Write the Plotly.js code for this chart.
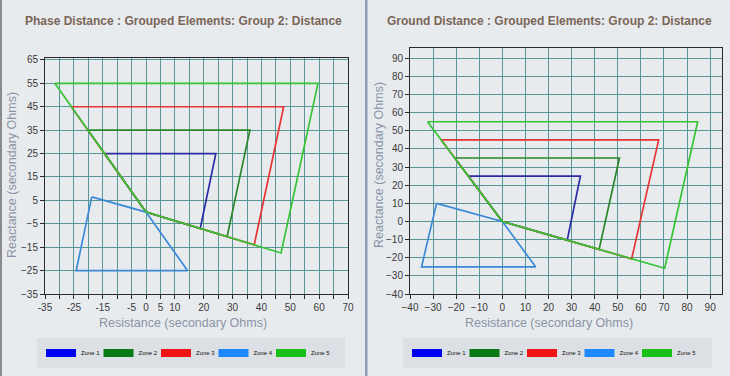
<!DOCTYPE html>
<html>
<head>
<meta charset="utf-8">
<script src="https://cdn.plot.ly/plotly-3.0.1.min.js"></script>
<style>html,body{margin:0;padding:0;background:#e8ebee;overflow:hidden;}#chart{width:730px;height:376px;overflow:hidden;}</style>
</head>
<body>
<div id="chart"></div>
<script>
// ---- Data ----
const zoneNames = ["Zone 1", "Zone 2", "Zone 3", "Zone 4", "Zone 5"];
const lineColors = ["#2b2ba6", "#2a862a", "#e83434", "#3a8ad8", "#35c435"];
const legendColors = ["#0000f0", "#0a7a14", "#f01414", "#1e88ff", "#18c018"];

// Phase distance (left) polygons: R and X
const phaseR = [
  [-14.4, 24.2, 18.8, 0, -14.4],
  [-20.1, 36.0, 28.1, 0, -20.1],
  [-25.9, 47.7, 37.5, 0, -25.9],
  [-18.8, 0, 14.4, -24.2, -18.8],
  [-31.6, 59.6, 46.8, 0, -31.6]
];
const phaseX = [
  [25, 25, -7.0, 0, 25],
  [35, 35, -10.5, 0, 35],
  [45, 45, -14.0, 0, 45],
  [6.5, 0, -25, -25, 6.5],
  [55, 55, -17.5, 0, 55]
];

// Ground distance (right) polygons
const groundR = [
  [-14.7, 33.8, 28.1, 0, -14.7],
  [-20.6, 50.7, 41.9, 0, -20.6],
  [-26.5, 67.7, 56.0, 0, -26.5],
  [-28.5, 0, 14.4, -35.0, -28.5],
  [-32.4, 84.6, 70.3, 0, -32.4]
];
const groundX = [
  [25, 25, -10.3, 0, 25],
  [35, 35, -15.4, 0, 35],
  [45, 45, -20.6, 0, 45],
  [10, 0, -25, -25, 10],
  [55, 55, -25.8, 0, 55]
];

// Tick labels
const phaseXTicks = [-35,-30,-25,-20,-15,-10,-5,0,5,10,15,20,25,30,35,40,45,50,55,60,65,70];
const phaseXLabels = ["-35","","-25","","-15","","-5","0","5","10","","20","","30","","40","","50","","60","","70"];
const phaseYTicks = [-35,-25,-15,-5,5,15,25,35,45,55,65];
const groundTicks = [-40,-30,-20,-10,0,10,20,30,40,50,60,70,80,90];

const titles = ["Phase Distance : Grouped Elements: Group 2: Distance",
                "Ground Distance : Grouped Elements: Group 2: Distance"];
const xTitle = "Resistance (secondary Ohms)";
const yTitle = "Reactance (secondary Ohms)";

const W = 730, H = 376;
const px = v => v / W, py = v => 1 - v / H;

// ---- Traces ----
const traces = [];
for (let i = 0; i < 5; i++) {
  traces.push({x: phaseR[i], y: phaseX[i], type: "scatter", mode: "lines",
    line: {color: lineColors[i], width: 1.7}, showlegend: false, hoverinfo: "skip",
    xaxis: "x", yaxis: "y"});
}
for (let i = 0; i < 5; i++) {
  traces.push({x: groundR[i], y: groundX[i], type: "scatter", mode: "lines",
    line: {color: lineColors[i], width: 1.7}, showlegend: false, hoverinfo: "skip",
    xaxis: "x2", yaxis: "y2"});
}

// one legend per entry so each can be placed like the reference
const legBase = {orientation: "h", bgcolor: "rgba(0,0,0,0)", borderwidth: 0,
  font: {family: "Liberation Sans, Arial, sans-serif", size: 6, color: "#111"},
  itemwidth: 30, yanchor: "middle", xanchor: "left",
  itemclick: false, itemdoubleclick: false};
const legendStarts = [41, 407];
const legendStep = 57.5;
const axPairs = [["x", "y"], ["x2", "y2"]];
const legendLayouts = {};
let n = 0;
for (let k = 0; k < 2; k++) {
  for (let i = 0; i < 5; i++) {
    const id = n === 0 ? "legend" : "legend" + (n + 1);
    traces.push({x: [null], y: [null], type: "scatter", mode: "lines", name: zoneNames[i],
      line: {color: legendColors[i], width: 8}, legend: id,
      xaxis: axPairs[k][0], yaxis: axPairs[k][1]});
    legendLayouts[id] = Object.assign({}, legBase,
      {x: px(legendStarts[k] + i * legendStep), y: py(353)});
    n++;
  }
}

const gridC = "#5a9696";
const tickFont = {family: "Liberation Sans, Arial, sans-serif", size: 10, color: "#3a3a3a"};
const axBase = {showgrid: true, gridcolor: gridC, gridwidth: 1, zeroline: false,
  showline: true, linecolor: "#2a2a2a", linewidth: 1, mirror: true,
  ticks: "outside", ticklen: 4, tickcolor: "#2a2a2a", tickfont: tickFont, fixedrange: true};

const layout = Object.assign({
  width: W, height: H, autosize: false,
  margin: {l: 0, r: 0, t: 0, b: 0, autoexpand: false},
  paper_bgcolor: "#e8ebee", plot_bgcolor: "#e8ebee",
  showlegend: true,
  xaxis: Object.assign({}, axBase, {domain: [px(45), px(348)], range: [-35, 70],
    tickmode: "array", tickvals: phaseXTicks, ticktext: phaseXLabels, anchor: "y"}),
  yaxis: Object.assign({}, axBase, {domain: [py(294), py(58.3)], range: [-35, 65.7],
    tickmode: "array", tickvals: phaseYTicks, anchor: "x"}),
  xaxis2: Object.assign({}, axBase, {domain: [px(410), px(721.7)], range: [-40, 95],
    tickmode: "array", tickvals: groundTicks, anchor: "y2"}),
  yaxis2: Object.assign({}, axBase, {domain: [py(294), py(48.3)], range: [-40, 95.5],
    tickmode: "array", tickvals: groundTicks, anchor: "x2"}),
  shapes: [
    {type: "rect", xref: "paper", yref: "paper", x0: px(37), x1: px(345), y0: py(368), y1: py(338),
      fillcolor: "#dcdfe3", line: {width: 0}, layer: "below"},
    {type: "rect", xref: "paper", yref: "paper", x0: px(403), x1: px(712), y0: py(368), y1: py(338),
      fillcolor: "#dcdfe3", line: {width: 0}, layer: "below"},
    {type: "rect", xref: "paper", yref: "paper", x0: 0, x1: px(2), y0: 0, y1: 1,
      fillcolor: "#8a8a8a", line: {width: 0}, layer: "below"},
    {type: "rect", xref: "paper", yref: "paper", x0: px(365), x1: px(367.5), y0: 0, y1: 1,
      fillcolor: "#8d9db6", line: {width: 0}, layer: "below"}
  ],
  annotations: [
    {text: "<b>" + titles[0] + "</b>", xref: "paper", yref: "paper", x: px(23), y: py(21),
      xanchor: "left", yanchor: "middle", showarrow: false,
      font: {family: "Liberation Sans, Arial, sans-serif", size: 12, color: "#7a6658"}},
    {text: "<b>" + titles[1] + "</b>", xref: "paper", yref: "paper", x: px(385), y: py(21),
      xanchor: "left", yanchor: "middle", showarrow: false,
      font: {family: "Liberation Sans, Arial, sans-serif", size: 12, color: "#7a6658"}},
    {text: xTitle, xref: "paper", yref: "paper", x: px(183), y: py(323),
      xanchor: "center", yanchor: "middle", showarrow: false,
      font: {family: "Liberation Sans, Arial, sans-serif", size: 12.5, color: "#8a94a6"}},
    {text: xTitle, xref: "paper", yref: "paper", x: px(549), y: py(323),
      xanchor: "center", yanchor: "middle", showarrow: false,
      font: {family: "Liberation Sans, Arial, sans-serif", size: 12.5, color: "#8a94a6"}},
    {text: yTitle, xref: "paper", yref: "paper", x: px(12), y: py(175), textangle: -90,
      xanchor: "center", yanchor: "middle", showarrow: false,
      font: {family: "Liberation Sans, Arial, sans-serif", size: 12.5, color: "#8a94a6"}},
    {text: yTitle, xref: "paper", yref: "paper", x: px(379), y: py(165), textangle: -90,
      xanchor: "center", yanchor: "middle", showarrow: false,
      font: {family: "Liberation Sans, Arial, sans-serif", size: 12.5, color: "#8a94a6"}}
  ]
}, legendLayouts);

Plotly.newPlot("chart", traces, layout, {staticPlot: true, displayModeBar: false});
</script>
</body>
</html>
